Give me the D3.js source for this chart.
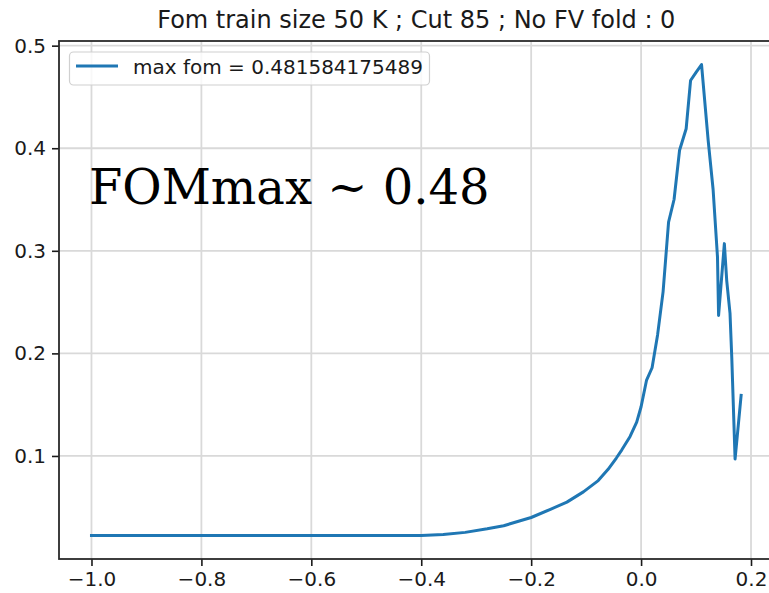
<!DOCTYPE html>
<html>
<head>
<meta charset="utf-8">
<script src="https://cdn.jsdelivr.net/npm/d3@7"></script>
<style>
  html, body { margin: 0; padding: 0; background: #fff; }
  svg { display: block; }
</style>
</head>
<body>
<svg id="chart" width="769" height="593"></svg>
<script>
// FOM as a function of the cut value
const fomX = [-1.0, -0.9, -0.8, -0.7, -0.6, -0.5, -0.4, -0.36, -0.32, -0.28, -0.25, -0.2,
  -0.165, -0.135, -0.105, -0.078, -0.06, -0.045, -0.035, -0.02, -0.008, 0.0, 0.01, 0.02,
  0.03, 0.04, 0.05, 0.06, 0.07, 0.082, 0.09, 0.1, 0.11, 0.122, 0.131, 0.139, 0.141,
  0.1515, 0.1558, 0.1618, 0.165, 0.171, 0.182];
const fomY = [0.0225, 0.0225, 0.0225, 0.0225, 0.0225, 0.0225, 0.0225, 0.0235, 0.0255, 0.029,
  0.032, 0.040, 0.048, 0.055, 0.065, 0.076, 0.087, 0.098, 0.106, 0.119, 0.133, 0.148, 0.174,
  0.186, 0.218, 0.26, 0.328, 0.35, 0.398, 0.419, 0.466, 0.474, 0.481584175489, 0.408, 0.36,
  0.294, 0.237, 0.307, 0.271, 0.239, 0.196, 0.097, 0.159];
const xTicks = [-1.0, -0.8, -0.6, -0.4, -0.2, 0.0, 0.2];
const yTicks = [0.1, 0.2, 0.3, 0.4, 0.5];
const maxFom = "0.481584175489";
const titleText = "Fom train size 50 K ; Cut 85 ; No FV fold : 0";
const noteText = "FOMmax ~ 0.48";

const svg = d3.select("#chart");
const plot = { left: 59, right: 773.6, top: 41, bottom: 559 };

// autoscale with 5% margins on both axes
function padded(vals) {
  const [lo, hi] = d3.extent(vals);
  const m = (hi - lo) * 0.05;
  return [lo - m, hi + m];
}
const x = d3.scaleLinear().domain(padded(fomX)).range([plot.left, plot.right]);
const y = d3.scaleLinear().domain(padded(fomY)).range([plot.bottom, plot.top]);

const sans = "'DejaVu Sans', sans-serif";
const ink = "#1a1a1a";

// grid
const grid = svg.append("g").attr("stroke", "#d9d9d9").attr("stroke-width", 1.8);
grid.selectAll(".gx").data(xTicks).join("line")
  .attr("x1", d => x(d)).attr("x2", d => x(d))
  .attr("y1", plot.top).attr("y2", plot.bottom);
grid.selectAll(".gy").data(yTicks).join("line")
  .attr("x1", plot.left).attr("x2", plot.right)
  .attr("y1", d => y(d)).attr("y2", d => y(d));

// curve
const line = d3.line().x((d, i) => x(fomX[i])).y(d => y(d));
svg.append("path").datum(fomY)
  .attr("d", line)
  .attr("fill", "none")
  .attr("stroke", "#1f77b4")
  .attr("stroke-width", 3)
  .attr("stroke-linejoin", "round")
  .attr("stroke-linecap", "square");

// axes
const xAxis = d3.axisBottom(x).tickValues(xTicks).tickSize(7).tickPadding(6)
  .tickFormat(d => d3.format(".1f")(d).replace("-", "\u2212"));
const gx = svg.append("g").attr("transform", `translate(0,${plot.bottom})`).call(xAxis);
gx.select(".domain").remove();
gx.selectAll(".tick line").attr("stroke", ink).attr("stroke-width", 1.6);
gx.selectAll(".tick text").attr("fill", ink).style("font-family", sans).style("font-size", "20px");

const yAxis = d3.axisLeft(y).tickValues(yTicks).tickSize(7).tickPadding(6)
  .tickFormat(d3.format(".1f"));
const gy = svg.append("g").attr("transform", `translate(${plot.left},0)`).call(yAxis);
gy.select(".domain").remove();
gy.selectAll(".tick line").attr("stroke", ink).attr("stroke-width", 1.6);
gy.selectAll(".tick text").attr("fill", ink).style("font-family", sans).style("font-size", "20px");

// spines
svg.append("rect")
  .attr("x", plot.left).attr("y", plot.top)
  .attr("width", plot.right - plot.left).attr("height", plot.bottom - plot.top)
  .attr("fill", "none").attr("stroke", "#2a2a2a").attr("stroke-width", 1.8);

// annotation
svg.append("text")
  .attr("x", 89).attr("y", 203.5)
  .attr("fill", "#000")
  .style("font-family", "'DejaVu Serif', serif")
  .style("font-size", "48px")
  .text(noteText);

// legend
const lg = svg.append("g");
lg.append("rect")
  .attr("x", 69.5).attr("y", 52).attr("width", 360).attr("height", 33)
  .attr("rx", 4).attr("fill", "#fff").attr("fill-opacity", 0.8)
  .attr("stroke", "#d0d0d0").attr("stroke-width", 1.2);
lg.append("line")
  .attr("x1", 76).attr("x2", 118).attr("y1", 66).attr("y2", 66)
  .attr("stroke", "#1f77b4").attr("stroke-width", 3);
lg.append("text")
  .attr("x", 133).attr("y", 73.5)
  .attr("fill", ink)
  .style("font-family", sans).style("font-size", "20px")
  .text(`max fom = ${maxFom}`);

// title
svg.append("text")
  .attr("x", (plot.left + plot.right) / 2).attr("y", 28)
  .attr("text-anchor", "middle")
  .attr("fill", ink)
  .style("font-family", sans).style("font-size", "24px")
  .text(titleText);
</script>
</body>
</html>
